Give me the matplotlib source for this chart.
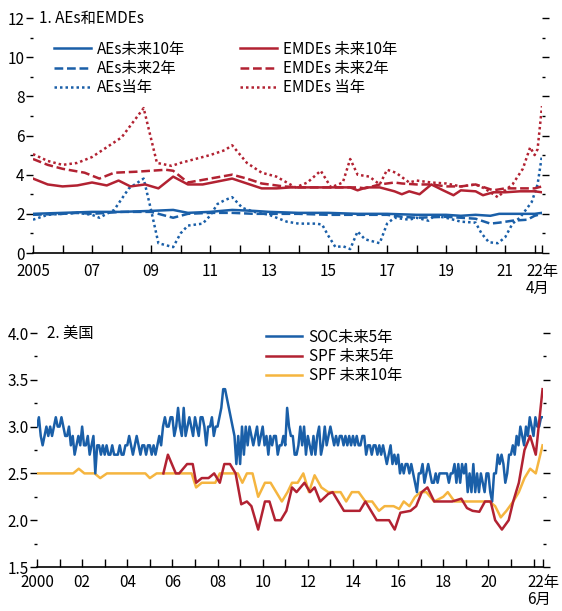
import numpy as np
import matplotlib
matplotlib.use("Agg")
import matplotlib.pyplot as plt
from matplotlib.ticker import MultipleLocator, FixedLocator

plt.rcParams['font.family'] = ['Noto Sans CJK SC', 'DejaVu Sans']
plt.rcParams['font.size'] = 11

BLUE = '#1a5fa8'
RED = '#b22232'
YELLOW = '#f5b53f'

# ---- panel 1: AEs / EMDEs inflation expectations ----
aes10_t = [2005.0, 2006.0, 2007.0, 2008.0, 2009.0, 2009.75, 2010.25, 2011.0, 2011.75, 2012.5,
           2013.0, 2014.0, 2015.0, 2016.0, 2017.0, 2018.0, 2019.0, 2019.5, 2020.0, 2020.5,
           2020.8, 2021.5, 2022.0, 2022.25]
aes10_v = [2.0, 2.05, 2.1, 2.1, 2.15, 2.2, 2.05, 2.1, 2.2, 2.15,
           2.1, 2.05, 2.05, 2.0, 2.0, 1.95, 1.95, 1.9, 1.95, 1.9,
           2.0, 2.0, 2.0, 2.05]

aes2_t = [2005.0, 2006.0, 2006.5, 2007.0, 2008.0, 2009.0, 2009.25, 2009.75, 2010.25, 2011.0,
          2011.75, 2012.5, 2013.0, 2014.0, 2015.0, 2016.0, 2017.0, 2017.5, 2018.0, 2019.0,
          2019.5, 2020.0, 2020.5, 2020.8, 2021.25, 2021.75, 2022.0, 2022.25]
aes2_v = [1.95, 2.0, 2.05, 2.0, 2.1, 2.1, 2.0, 1.8, 2.0, 2.05,
          2.05, 2.0, 2.0, 2.0, 1.95, 1.95, 1.95, 1.85, 1.8, 1.85,
          1.8, 1.75, 1.5, 1.55, 1.65, 1.7, 1.9, 2.0]

aes0_t = [2005.0, 2005.5, 2006.0, 2006.5, 2007.0, 2007.25, 2007.75, 2008.25, 2008.75, 2009.0,
          2009.25, 2009.5, 2009.75, 2010.0, 2010.25, 2010.75, 2011.0, 2011.25, 2011.5, 2011.75,
          2012.1, 2012.5, 2013.0, 2013.6, 2014.0, 2014.6, 2014.8, 2015.0, 2015.25, 2015.5,
          2015.75, 2016.0, 2016.25, 2016.75, 2017.0, 2017.25, 2017.75, 2018.0, 2018.4, 2018.6,
          2019.0, 2019.5, 2020.0, 2020.2, 2020.45, 2020.75, 2021.0, 2021.25, 2021.5, 2021.9,
          2022.1, 2022.25]
aes0_v = [1.7, 1.95, 2.0, 2.05, 1.95, 1.8, 2.2, 3.3, 3.8, 2.2,
          0.5, 0.4, 0.3, 1.0, 1.4, 1.5, 1.9, 2.5, 2.7, 2.85,
          2.3, 2.1, 1.95, 1.6, 1.5, 1.5, 1.45, 0.9, 0.3, 0.35,
          0.2, 1.1, 0.7, 0.5, 1.5, 1.8, 1.7, 1.8, 1.65, 1.9,
          1.8, 1.6, 1.55, 1.0, 0.55, 0.5, 0.8, 1.5, 1.8, 2.6,
          3.5, 5.0]

em10_t = [2005.0, 2005.5, 2006.0, 2006.5, 2007.0, 2007.5, 2007.9, 2008.3, 2008.8, 2009.25,
          2009.75, 2010.25, 2010.75, 2011.25, 2011.75, 2012.25, 2012.75, 2013.25, 2013.75, 2014.25,
          2014.75, 2015.25, 2015.75, 2016.0, 2016.3, 2016.75, 2017.25, 2017.5, 2017.75, 2018.1,
          2018.5, 2018.9, 2019.25, 2019.5, 2020.0, 2020.25, 2020.6, 2021.0, 2021.5, 2022.0,
          2022.25]
em10_v = [3.8, 3.5, 3.4, 3.45, 3.6, 3.45, 3.7, 3.4, 3.5, 3.3,
          3.9, 3.5, 3.5, 3.65, 3.8, 3.55, 3.3, 3.3, 3.35, 3.35,
          3.35, 3.35, 3.35, 3.2, 3.35, 3.35, 3.15, 3.0, 3.15, 3.0,
          3.5, 3.2, 2.95, 3.2, 3.15, 2.95, 3.1, 3.1, 3.15, 3.15,
          3.1]

em2_t = [2005.0, 2005.5, 2006.0, 2006.75, 2007.25, 2007.75, 2008.5, 2009.0, 2009.5, 2009.75,
         2010.25, 2011.0, 2011.75, 2012.25, 2012.75, 2013.5, 2014.0, 2015.0, 2016.0, 2016.25,
         2016.75, 2017.25, 2017.5, 2018.0, 2018.5, 2019.0, 2019.5, 2020.0, 2020.6, 2021.0,
         2021.5, 2022.0, 2022.25]
em2_v = [4.8, 4.5, 4.3, 4.1, 3.8, 4.1, 4.15, 4.2, 4.25, 4.2,
         3.6, 3.8, 4.0, 3.8, 3.55, 3.4, 3.35, 3.35, 3.35, 3.3,
         3.5, 3.6, 3.55, 3.5, 3.5, 3.4, 3.4, 3.5, 3.2, 3.3,
         3.3, 3.3, 3.4]

em0_t = [2005.0, 2005.5, 2006.0, 2006.5, 2007.0, 2007.5, 2008.0, 2008.25, 2008.75, 2009.2,
         2009.7, 2010.0, 2010.5, 2011.0, 2011.5, 2011.75, 2012.25, 2012.75, 2013.25, 2013.6,
         2013.9, 2014.3, 2014.75, 2015.1, 2015.5, 2015.75, 2016.0, 2016.4, 2016.75, 2017.0,
         2017.3, 2017.75, 2018.0, 2018.5, 2019.0, 2019.5, 2020.0, 2020.3, 2020.75, 2021.0,
         2021.25, 2021.6, 2021.85, 2022.0, 2022.1, 2022.25]
em0_v = [5.05, 4.7, 4.5, 4.6, 4.9, 5.4, 5.9, 6.4, 7.4, 4.6,
         4.45, 4.6, 4.8, 5.0, 5.25, 5.5, 4.6, 4.1, 3.9, 3.6,
         3.35, 3.6, 4.2, 3.35, 3.6, 4.8, 4.0, 3.9, 3.5, 4.25,
         4.1, 3.6, 3.7, 3.6, 3.55, 3.4, 3.5, 3.3, 2.85, 3.2,
         3.5, 4.3, 5.4, 5.0, 5.3, 7.5]

# ---- panel 2: United States ----
# University of Michigan survey (SOC), monthly from Jan 2000 to Jun 2022
soc_v = [
    3.0, 3.1, 2.9, 2.8, 2.9, 3.0, 2.9, 3.0, 2.9, 3.0, 3.1, 3.0,   # 2000
    3.0, 3.1, 3.0, 2.9, 2.9, 3.0, 2.8, 2.9, 2.7, 2.8, 2.9, 2.8,   # 2001
    3.0, 2.8, 2.8, 2.9, 2.7, 2.8, 2.9, 2.5, 2.8, 2.8, 2.7, 2.8,   # 2002
    2.7, 2.8, 2.7, 2.7, 2.8, 2.7, 2.7, 2.7, 2.8, 2.7, 2.7, 2.8,   # 2003
    2.8, 2.9, 2.8, 2.7, 2.8, 2.9, 2.8, 2.7, 2.8, 2.8, 2.7, 2.8,   # 2004
    2.8, 2.7, 2.8, 2.7, 2.8, 2.9, 2.8, 3.0, 3.1, 3.0, 3.0, 3.1,   # 2005
    3.1, 2.9, 3.0, 3.2, 3.0, 2.9, 3.2, 2.9, 3.0, 3.1, 3.0, 2.9,   # 2006
    3.1, 3.0, 2.9, 3.1, 3.1, 3.0, 2.8, 3.0, 3.0, 3.1, 2.9, 3.0,   # 2007
    3.0, 3.1, 3.2, 3.4, 3.4, 3.3, 3.2, 3.1, 3.0, 2.9, 2.6, 2.9,   # 2008
    2.6, 3.0, 2.7, 3.0, 2.8, 3.0, 2.9, 2.8, 2.9, 3.0, 2.8, 2.9,   # 2009
    3.0, 2.8, 2.9, 2.7, 2.9, 2.8, 2.9, 2.9, 2.7, 2.8, 2.8, 2.9,   # 2010
    2.8, 3.2, 3.0, 2.9, 2.9, 2.7, 2.7, 2.8, 3.0, 2.8, 3.0, 2.7,   # 2011
    2.9, 2.8, 2.7, 2.9, 2.7, 2.9, 3.0, 2.7, 2.8, 3.0, 2.8, 2.9,   # 2012
    3.0, 2.9, 2.8, 2.9, 2.8, 2.9, 2.9, 2.8, 2.9, 2.8, 2.9, 2.8,   # 2013
    2.9, 2.8, 2.9, 2.8, 2.8, 2.9, 2.9, 2.7, 2.8, 2.8, 2.7, 2.8,   # 2014
    2.8, 2.7, 2.8, 2.7, 2.8, 2.7, 2.6, 2.7, 2.8, 2.6, 2.7, 2.6,   # 2015
    2.7, 2.5, 2.6, 2.5, 2.6, 2.6, 2.5, 2.6, 2.5, 2.4, 2.3, 2.5,   # 2016
    2.5, 2.6, 2.4, 2.5, 2.6, 2.5, 2.4, 2.4, 2.5, 2.4, 2.5, 2.5,   # 2017
    2.5, 2.5, 2.5, 2.4, 2.5, 2.5, 2.6, 2.4, 2.6, 2.4, 2.6, 2.5,   # 2018
    2.6, 2.3, 2.5, 2.3, 2.6, 2.3, 2.5, 2.3, 2.5, 2.4, 2.3, 2.5,   # 2019
    2.5, 2.3, 2.2, 2.5, 2.5, 2.7, 2.6, 2.7, 2.6, 2.4, 2.5, 2.7,   # 2020
    2.7, 2.8, 2.7, 2.9, 2.8, 3.0, 2.9, 2.8, 3.0, 2.9, 3.1, 3.0,   # 2021
    2.9, 3.1, 3.0, 3.0, 3.1, 3.1,                                 # 2022
]
soc_t = 2000 + np.arange(len(soc_v)) / 12

spf5_t = [2005.6, 2005.8, 2006.15, 2006.3, 2006.65, 2006.9, 2007.05, 2007.3, 2007.6, 2007.85,
          2008.1, 2008.3, 2008.55, 2008.8, 2009.05, 2009.3, 2009.5, 2009.8, 2010.1, 2010.3,
          2010.55, 2010.8, 2011.05, 2011.3, 2011.5, 2011.85, 2012.1, 2012.3, 2012.55, 2012.9,
          2013.1, 2013.6, 2014.1, 2014.3, 2014.55, 2015.05, 2015.6, 2015.85, 2016.1, 2016.55,
          2016.8, 2017.05, 2017.3, 2017.6, 2018.4, 2018.8, 2019.05, 2019.3, 2019.6, 2019.85,
          2020.1, 2020.3, 2020.6, 2020.9, 2021.1, 2021.35, 2021.6, 2021.85, 2022.1, 2022.4]
spf5_v = [2.5, 2.7, 2.5, 2.5, 2.6, 2.6, 2.4, 2.45, 2.45, 2.5,
          2.4, 2.6, 2.6, 2.5, 2.17, 2.2, 2.15, 1.9, 2.2, 2.2,
          2.0, 2.0, 2.1, 2.35, 2.3, 2.4, 2.3, 2.35, 2.2, 2.28,
          2.3, 2.1, 2.1, 2.1, 2.2, 2.0, 2.0, 1.9, 2.08, 2.1,
          2.15, 2.3, 2.35, 2.2, 2.2, 2.23, 2.13, 2.1, 2.09, 2.2,
          2.2, 2.0, 1.9, 2.0, 2.2, 2.4, 2.75, 2.9, 2.7, 3.4]

spf10_t = [2000.0, 2001.6, 2001.85, 2002.1, 2002.55, 2002.8, 2003.1, 2004.8, 2005.0, 2005.3,
           2006.85, 2007.05, 2007.3, 2007.9, 2008.1, 2008.9, 2009.1, 2009.3, 2009.55, 2009.8,
           2010.1, 2010.35, 2010.6, 2010.85, 2011.1, 2011.3, 2011.55, 2011.8, 2012.05, 2012.3,
           2012.6, 2012.9, 2013.45, 2013.7, 2013.95, 2014.25, 2014.55, 2014.85, 2015.15, 2015.4,
           2015.8, 2016.05, 2016.25, 2016.5, 2016.75, 2017.0, 2017.25, 2017.6, 2018.0, 2018.2,
           2018.5, 2020.05, 2020.3, 2020.55, 2020.8, 2021.1, 2021.35, 2021.6, 2021.85, 2022.1,
           2022.4]
spf10_v = [2.5, 2.5, 2.55, 2.5, 2.5, 2.45, 2.5, 2.5, 2.45, 2.5,
           2.5, 2.35, 2.4, 2.4, 2.5, 2.5, 2.4, 2.5, 2.5, 2.25,
           2.4, 2.4, 2.3, 2.2, 2.3, 2.4, 2.4, 2.5, 2.3, 2.48,
           2.35, 2.3, 2.3, 2.2, 2.3, 2.3, 2.2, 2.2, 2.1, 2.15,
           2.15, 2.12, 2.2, 2.15, 2.25, 2.3, 2.3, 2.2, 2.25, 2.3,
           2.2, 2.2, 2.15, 2.03, 2.1, 2.2, 2.3, 2.45, 2.55, 2.5,
           2.8]

W, H = 562, 611
fig = plt.figure(figsize=(W / 100, H / 100), dpi=100)


def box(x0, x1, y_top, y_bot):
    return [x0 / W, 1 - y_bot / H, (x1 - x0) / W, (y_bot - y_top) / H]


def style_axes(ax, xmin, xmax, first, end_label, pad):
    for s in ('left', 'right', 'top'):
        ax.spines[s].set_visible(False)
    ax.spines['bottom'].set_linewidth(1.2)
    ax.tick_params(axis='y', which='major', direction='out', length=5, width=1, pad=1,
                   left=True, right=True, labelleft=True)
    ax.tick_params(axis='y', which='minor', direction='out', length=2.5, width=1,
                   left=True, right=True)
    ax.tick_params(axis='x', which='both', direction='in', length=6, width=1, pad=pad)
    years = list(range(int(xmin), 2023))
    # labels every other year, last one replaced by the end-of-sample label
    shown = [y for y in years[::2] if y < 2022]
    ax.xaxis.set_major_locator(FixedLocator(shown + [xmax]))
    labels = [first] + ['%02d' % (y % 100) for y in shown[1:]] + [end_label]
    ax.set_xticklabels(labels)
    ax.xaxis.set_minor_locator(FixedLocator(years))
    ax.set_xlim(xmin, xmax)
    last = ax.get_xticklabels()[-1]
    last.set_multialignment('left')
    last.set_linespacing(1.0)


# panel 1
ax1 = fig.add_axes(box(33, 542, 18, 253))
ax1.plot(aes10_t, aes10_v, color=BLUE, lw=1.8, label='AEs未来10年')
ax1.plot(aes2_t, aes2_v, color=BLUE, lw=1.8, ls=(0, (3.5, 1.5)), label='AEs未来2年')
ax1.plot(aes0_t, aes0_v, color=BLUE, lw=1.8, ls=(0, (1, 1.2)), label='AEs当年')
ax1.plot(em10_t, em10_v, color=RED, lw=1.8, label='EMDEs 未来10年')
ax1.plot(em2_t, em2_v, color=RED, lw=1.8, ls=(0, (3.5, 1.5)), label='EMDEs 未来2年')
ax1.plot(em0_t, em0_v, color=RED, lw=1.8, ls=(0, (1, 1.2)), label='EMDEs 当年')
ax1.set_ylim(0, 12)
ax1.yaxis.set_major_locator(MultipleLocator(2))
ax1.yaxis.set_minor_locator(MultipleLocator(1))
style_axes(ax1, 2005, 2022.25, '2005', '22年\n4月', pad=7)
ax1.text(0.012, 1.0, '1. AEs和EMDEs', transform=ax1.transAxes, va='center', ha='left', fontsize=11)
ax1.legend(ncol=2, loc='upper left', bbox_to_anchor=(0.03, 0.93), frameon=False,
           handlelength=2.4, handletextpad=0.4, columnspacing=3.6, labelspacing=0.15,
           fontsize=11, borderaxespad=0)

# panel 2
ax2 = fig.add_axes(box(37, 543, 333, 567))
ax2.plot(soc_t, soc_v, color=BLUE, lw=1.8, label='SOC未来5年', zorder=3)
ax2.plot(spf5_t, spf5_v, color=RED, lw=1.8, label='SPF 未来5年', zorder=4)
ax2.plot(spf10_t, spf10_v, color=YELLOW, lw=1.8, label='SPF 未来10年', zorder=2)
ax2.set_ylim(1.5, 4.0)
ax2.yaxis.set_major_locator(MultipleLocator(0.5))
ax2.yaxis.set_minor_locator(MultipleLocator(0.25))
ax2.yaxis.set_major_formatter(matplotlib.ticker.FormatStrFormatter('%.1f'))
style_axes(ax2, 2000, 2022.42, '2000', '22年\n6月', pad=5)
ax2.text(0.02, 1.0, '2. 美国', transform=ax2.transAxes, va='center', ha='left', fontsize=11)
ax2.legend(loc='upper left', bbox_to_anchor=(0.44, 1.045), frameon=False,
           handlelength=2.4, handletextpad=0.4, labelspacing=0.15,
           fontsize=11, borderaxespad=0)

fig.savefig('out.png', dpi=100)
